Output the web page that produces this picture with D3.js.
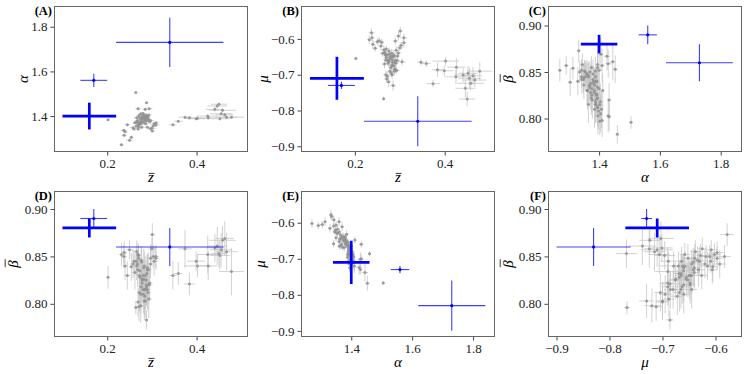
<!DOCTYPE html>
<html>
<head>
<meta charset="utf-8">
<script src="https://cdn.jsdelivr.net/npm/d3@7"></script>
<style>
  body { margin: 0; background: #fff; }
  text { font-family: "Liberation Serif", "Times New Roman", Times, serif; }
</style>
</head>
<body>
<svg id="chart" width="747" height="374"></svg>
<script>
// gray sample: outliers (3), low-alpha group (13), high-z group (17), main cluster (39 + 12)
const zBar = [
  0.202, 0.264, 0.288,
  0.232, 0.250, 0.238, 0.254, 0.301, 0.237, 0.260, 0.297, 0.309, 0.290, 0.309, 0.245, 0.240,
  0.347, 0.359, 0.374, 0.384, 0.399, 0.402, 0.426, 0.425, 0.441, 0.446, 0.450, 0.455, 0.458, 0.463, 0.467, 0.478, 0.452,
  0.270, 0.276, 0.282, 0.268, 0.285, 0.279, 0.288, 0.273, 0.291, 0.284,
  0.276, 0.280, 0.287, 0.293, 0.270, 0.266, 0.283, 0.278, 0.289, 0.274,
  0.281, 0.286, 0.292, 0.277, 0.283, 0.269, 0.271, 0.275, 0.272, 0.294,
  0.269, 0.285, 0.300, 0.305, 0.297, 0.262, 0.290, 0.280, 0.266,
  0.265, 0.272, 0.278, 0.284, 0.290, 0.268, 0.275, 0.282, 0.288, 0.295, 0.258, 0.303
];
const zErr = [
  0.003, 0.003, 0.004,
  0.005, 0.008, 0.006, 0.005, 0.006, 0.007, 0.005, 0.006, 0.008, 0.006, 0.007, 0.006, 0.005,
  0.008, 0.010, 0.015, 0.012, 0.020, 0.030, 0.020, 0.025, 0.020, 0.022, 0.018, 0.025, 0.030, 0.020, 0.025, 0.028, 0.022,
  0.006, 0.008, 0.005, 0.006, 0.007, 0.006, 0.008, 0.005, 0.006, 0.007,
  0.006, 0.005, 0.006, 0.007, 0.006, 0.005, 0.008, 0.006, 0.006, 0.006,
  0.006, 0.006, 0.007, 0.006, 0.006, 0.006, 0.006, 0.005, 0.006, 0.007,
  0.006, 0.006, 0.008, 0.009, 0.007, 0.006, 0.006, 0.007, 0.006,
  0.006, 0.006, 0.007, 0.006, 0.006, 0.005, 0.006, 0.007, 0.006, 0.006, 0.007, 0.006
];
const alpha = [
  1.383, 1.505, 1.460,
  1.271, 1.292, 1.314, 1.305, 1.333, 1.336, 1.342, 1.343, 1.360, 1.350, 1.370, 1.361, 1.330,
  1.361, 1.377, 1.395, 1.392, 1.388, 1.390, 1.392, 1.400, 1.430, 1.445, 1.453, 1.410, 1.426, 1.406, 1.395, 1.395, 1.388,
  1.352, 1.365, 1.372, 1.380, 1.385, 1.390, 1.378, 1.368, 1.395, 1.398,
  1.388, 1.402, 1.392, 1.405, 1.360, 1.375, 1.382, 1.395, 1.400, 1.372,
  1.408, 1.365, 1.385, 1.350, 1.396, 1.342, 1.402, 1.410, 1.395, 1.433,
  1.433, 1.430, 1.345, 1.365, 1.380, 1.370, 1.390, 1.412, 1.392,
  1.355, 1.362, 1.376, 1.388, 1.382, 1.370, 1.385, 1.392, 1.404, 1.375, 1.348, 1.355
];
const alphaErr = [
  0.005, 0.005, 0.005,
  0.006, 0.008, 0.006, 0.007, 0.006, 0.006, 0.005, 0.006, 0.007, 0.006, 0.006, 0.006, 0.006,
  0.006, 0.005, 0.005, 0.006, 0.006, 0.006, 0.010, 0.008, 0.010, 0.010, 0.008, 0.008, 0.010, 0.008, 0.008, 0.008, 0.007,
  0.006, 0.005, 0.006, 0.007, 0.006, 0.005, 0.006, 0.006, 0.006, 0.007,
  0.005, 0.006, 0.006, 0.006, 0.005, 0.006, 0.006, 0.006, 0.006, 0.006,
  0.006, 0.006, 0.006, 0.005, 0.006, 0.005, 0.006, 0.006, 0.006, 0.007,
  0.006, 0.007, 0.006, 0.006, 0.006, 0.006, 0.006, 0.006, 0.006,
  0.006, 0.005, 0.006, 0.007, 0.006, 0.006, 0.005, 0.006, 0.007, 0.006, 0.006, 0.006
];
const mu = [
  -0.655, -0.767, -0.686,
  -0.602, -0.608, -0.597, -0.605, -0.578, -0.583, -0.609, -0.592, -0.597, -0.606, -0.611, -0.626, -0.615,
  -0.665, -0.669, -0.725, -0.686, -0.689, -0.662, -0.679, -0.706, -0.701, -0.738, -0.768, -0.710, -0.724, -0.703, -0.715, -0.690, -0.696,
  -0.628, -0.634, -0.640, -0.645, -0.650, -0.655, -0.648, -0.660, -0.668, -0.672,
  -0.663, -0.680, -0.676, -0.688, -0.652, -0.638, -0.658, -0.690, -0.665, -0.668,
  -0.695, -0.645, -0.632, -0.642, -0.700, -0.658, -0.712, -0.720, -0.704, -0.660,
  -0.700, -0.730, -0.625, -0.664, -0.639, -0.640, -0.685, -0.648, -0.670,
  -0.630, -0.645, -0.652, -0.665, -0.660, -0.642, -0.660, -0.675, -0.690, -0.648, -0.620, -0.618
];
const muErr = [
  0.005, 0.006, 0.007,
  0.012, 0.010, 0.012, 0.010, 0.013, 0.012, 0.010, 0.012, 0.012, 0.010, 0.012, 0.010, 0.012,
  0.010, 0.010, 0.010, 0.020, 0.015, 0.012, 0.025, 0.020, 0.020, 0.025, 0.020, 0.030, 0.020, 0.025, 0.020, 0.025, 0.020,
  0.008, 0.010, 0.012, 0.010, 0.012, 0.010, 0.010, 0.012, 0.010, 0.012,
  0.012, 0.010, 0.012, 0.010, 0.010, 0.010, 0.012, 0.012, 0.010, 0.010,
  0.012, 0.010, 0.012, 0.010, 0.012, 0.010, 0.012, 0.015, 0.012, 0.010,
  0.012, 0.014, 0.008, 0.010, 0.010, 0.010, 0.012, 0.010, 0.012,
  0.010, 0.012, 0.010, 0.012, 0.010, 0.010, 0.012, 0.010, 0.012, 0.010, 0.012, 0.010
];
const beta = [
  0.828, 0.796, 0.783,
  0.852, 0.857, 0.854, 0.839, 0.873, 0.850, 0.845, 0.842, 0.848, 0.836, 0.850, 0.830, 0.840,
  0.830, 0.832, 0.858, 0.821, 0.845, 0.840, 0.840, 0.852, 0.859, 0.861, 0.853, 0.857, 0.867, 0.869, 0.855, 0.834, 0.851,
  0.851, 0.846, 0.838, 0.842, 0.830, 0.826, 0.820, 0.835, 0.812, 0.808,
  0.818, 0.815, 0.825, 0.805, 0.848, 0.855, 0.840, 0.822, 0.832, 0.828,
  0.810, 0.815, 0.836, 0.844, 0.803, 0.852, 0.797, 0.798, 0.812, 0.820,
  0.802, 0.803, 0.858, 0.845, 0.848, 0.833, 0.815, 0.830, 0.840,
  0.845, 0.830, 0.825, 0.815, 0.838, 0.836, 0.810, 0.826, 0.818, 0.822, 0.842, 0.850
];
const betaErr = [
  0.012, 0.007, 0.010,
  0.012, 0.010, 0.012, 0.015, 0.012, 0.012, 0.012, 0.015, 0.012, 0.015, 0.012, 0.015, 0.015,
  0.015, 0.012, 0.020, 0.012, 0.010, 0.012, 0.015, 0.020, 0.015, 0.020, 0.015, 0.018, 0.015, 0.018, 0.020, 0.025, 0.015,
  0.012, 0.015, 0.020, 0.015, 0.020, 0.018, 0.020, 0.015, 0.020, 0.020,
  0.018, 0.020, 0.020, 0.020, 0.015, 0.012, 0.015, 0.020, 0.020, 0.018,
  0.020, 0.020, 0.018, 0.015, 0.020, 0.012, 0.015, 0.018, 0.020, 0.018,
  0.015, 0.018, 0.012, 0.015, 0.015, 0.018, 0.020, 0.018, 0.015,
  0.015, 0.020, 0.018, 0.020, 0.015, 0.018, 0.020, 0.015, 0.020, 0.018, 0.015, 0.012
];

// highlighted (blue) objects
const blueZ = [0.16, 0.17, 0.34];
const blueZErr = [0.06, 0.03, 0.12];
const blueAlpha = [1.40, 1.56, 1.73];
const blueAlphaErr = [0.06, 0.03, 0.11];
const blueMu = [-0.71, -0.73, -0.83];
const blueMuErr = [0.06, 0.01, 0.07];
const blueBeta = [0.88, 0.89, 0.86];
const blueBetaErr = [0.01, 0.01, 0.02];

// bar = offset of the overline above the baseline (px), null when none
const vars = {
  z:     { v: zBar,  e: zErr,     bv: blueZ,     be: blueZErr,     label: "z", bar: 8.6, ticks: [0.2, 0.4], fmt: d3.format(".1f") },
  alpha: { v: alpha, e: alphaErr, bv: blueAlpha, be: blueAlphaErr, label: "\u03b1", bar: null, ticks: [1.4, 1.6, 1.8], fmt: d3.format(".1f") },
  mu:    { v: mu,    e: muErr,    bv: blueMu,    be: blueMuErr,    label: "\u03bc", bar: null, ticks: [-0.9, -0.8, -0.7, -0.6], fmt: d3.format(".1f") },
  beta:  { v: beta,  e: betaErr,  bv: blueBeta,  be: blueBetaErr,  label: "\u03b2", bar: 12.8, ticks: [0.80, 0.85, 0.90], fmt: d3.format(".2f") }
};

const panels = [
  { tag: "(A)", x: "z",     y: "alpha", left: 54,  top: 6,   xd: [0.081, 0.515], yd: [1.239, 1.893], yl: 31 },
  { tag: "(B)", x: "z",     y: "mu",    left: 301, top: 6,   xd: [0.080, 0.512], yd: [-0.916, -0.508], yl: 38 },
  { tag: "(C)", x: "alpha", y: "beta",  left: 548, top: 6,   xd: [1.232, 1.870], yd: [0.764, 0.921], yl: 40 },
  { tag: "(D)", x: "z",     y: "beta",  left: 54,  top: 191, xd: [0.081, 0.515], yd: [0.765, 0.919], yl: 41 },
  { tag: "(E)", x: "alpha", y: "mu",    left: 301, top: 191, xd: [1.235, 1.872], yd: [-0.917, -0.512], yl: 41 },
  { tag: "(F)", x: "mu",    y: "beta",  left: 548, top: 191, xd: [-0.916, -0.550], yd: [0.765, 0.919], yl: 40 }
];
const W = 194, H = 146;

const svg = d3.select("#chart");

// axis label, with an optional overline drawn over the glyph
function axisLabel(parent, transform, v) {
  const lg = parent.append("g").attr("transform", transform);
  const t = lg.append("text").attr("x", 0).attr("y", 0)
    .attr("text-anchor", "middle").style("font-style", "italic").style("font-size", "15px")
    .text(v.label);
  if (v.bar !== null) {
    const bb = t.node().getBBox();
    lg.append("line")
      .attr("x1", bb.x + 1.5).attr("x2", bb.x + bb.width + 0.5)
      .attr("y1", -v.bar).attr("y2", -v.bar)
      .style("stroke", "#222").style("stroke-width", 0.9);
  }
}

panels.forEach(p => {
  const X = vars[p.x], Y = vars[p.y];
  const x = d3.scaleLinear().domain(p.xd).range([0, W]);
  const y = d3.scaleLinear().domain(p.yd).range([H, 0]);
  const g = svg.append("g").attr("transform", `translate(${p.left},${p.top})`);

  // gray error bars + points
  const idx = d3.range(X.v.length);
  const gray = g.append("g");
  gray.selectAll("line.h").data(idx).enter().append("line")
    .attr("x1", i => x(X.v[i] - X.e[i])).attr("x2", i => x(X.v[i] + X.e[i]))
    .attr("y1", i => y(Y.v[i])).attr("y2", i => y(Y.v[i]))
    .style("stroke", "#c4c4c4").style("stroke-width", 1).style("opacity", 0.75);
  gray.selectAll("line.v").data(idx).enter().append("line")
    .attr("x1", i => x(X.v[i])).attr("x2", i => x(X.v[i]))
    .attr("y1", i => y(Y.v[i] - Y.e[i])).attr("y2", i => y(Y.v[i] + Y.e[i]))
    .style("stroke", "#c4c4c4").style("stroke-width", 1).style("opacity", 0.75);
  gray.selectAll("circle").data(idx).enter().append("circle")
    .attr("cx", i => x(X.v[i])).attr("cy", i => y(Y.v[i])).attr("r", 1.5)
    .style("fill", "#909090").style("opacity", 0.85);

  // blue error bars
  const bidx = d3.range(X.bv.length);
  const blue = g.append("g");
  blue.selectAll("line.h").data(bidx).enter().append("line")
    .attr("x1", i => x(X.bv[i] - X.be[i])).attr("x2", i => x(X.bv[i] + X.be[i]))
    .attr("y1", i => y(Y.bv[i])).attr("y2", i => y(Y.bv[i]))
    .style("stroke", "#0000ff").style("stroke-width", i => i === 0 ? 2.7 : 1.1)
    .style("opacity", i => i === 0 ? 1 : 0.75);
  blue.selectAll("line.v").data(bidx).enter().append("line")
    .attr("x1", i => x(X.bv[i])).attr("x2", i => x(X.bv[i]))
    .attr("y1", i => y(Y.bv[i] - Y.be[i])).attr("y2", i => y(Y.bv[i] + Y.be[i]))
    .style("stroke", "#0000ff").style("stroke-width", i => i === 0 ? 2.7 : 1.1)
    .style("opacity", i => i === 0 ? 1 : 0.75);
  blue.selectAll("circle").data(bidx).enter().append("circle")
    .attr("cx", i => x(X.bv[i])).attr("cy", i => y(Y.bv[i])).attr("r", 1.6)
    .style("fill", "#0000ff");

  // axes
  const xa = g.append("g").attr("transform", `translate(0,${H})`)
    .call(d3.axisBottom(x).tickValues(X.ticks).tickFormat(X.fmt).tickSize(3.5).tickPadding(3));
  const ya = g.append("g")
    .call(d3.axisLeft(y).tickValues(Y.ticks).tickFormat(Y.fmt).tickSize(3.5).tickPadding(3));
  [xa, ya].forEach(a => {
    a.select(".domain").remove();
    a.selectAll("text").style("font-size", "13px").style("fill", "#222")
      .style("font-family", "'Liberation Serif', 'Times New Roman', serif");
    a.selectAll("line").style("stroke", "#444");
  });

  // frame
  g.append("rect").attr("x", 0.5).attr("y", 0.5).attr("width", W - 1).attr("height", H - 1)
    .style("fill", "none").style("stroke", "#666").style("stroke-width", 1);

  // labels
  axisLabel(g, `translate(${W / 2},${H + 30})`, X);
  axisLabel(g, `translate(${-p.yl + 5},${H / 2}) rotate(-90)`, Y);
  g.append("text").attr("x", -2).attr("y", 8.5)
    .attr("text-anchor", "end").style("font-weight", "bold").style("font-size", "12.5px")
    .text(p.tag);
});
</script>
</body>
</html>
